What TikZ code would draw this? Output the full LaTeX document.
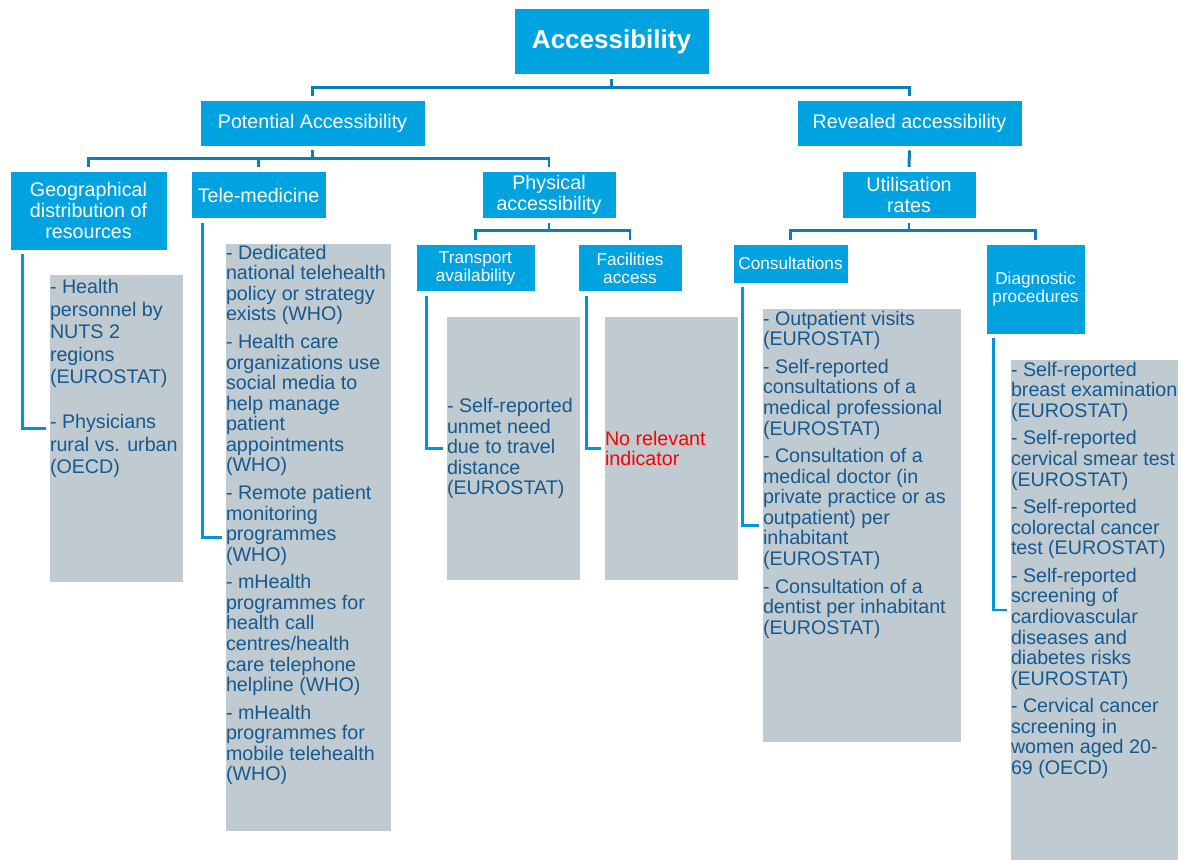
\documentclass[tikz,border=0pt]{standalone}
\usepackage{fontspec}
\setmainfont{Liberation Sans}

\definecolor{boxblue}{HTML}{00A3E0}
\definecolor{treeline}{HTML}{0B7EB6}
\definecolor{linkline}{HTML}{0096D6}
\definecolor{listgrey}{HTML}{BFCBD0}
\definecolor{indblue}{HTML}{17598F}
\definecolor{noind}{HTML}{FF0000}

\tikzset{
  hdr/.style={fill=boxblue, draw=white, line width=0.4pt, text=white, align=center,
    inner sep=0pt, font=\fontsize{11.2}{11.7}\selectfont},
  subhdr/.style={hdr, font=\fontsize{9.8}{10.2}\selectfont},
  listbox/.style={fill=listgrey, inner sep=0pt},
  listtext/.style={text=indblue, align=left, inner sep=0pt,
    font=\fontsize{11.2}{11.7}\selectfont},
  tree/.style={treeline, line width=1.7pt, shorten <=0.08cm, shorten >=0.08cm},
  link/.style={linkline, line width=1.7pt, shorten <=0.08cm, shorten >=0.08cm}
}

\begin{document}
\begin{tikzpicture}
    \useasboundingbox (0,0) rectangle (23.86,-17.2);
    % top level
    \node[hdr, minimum width=3.9cm, minimum height=1.33cm,
      font=\bfseries\fontsize{14.8}{16}\selectfont] (acc) at (12.23,-0.83) {Accessibility};
    \node[hdr, minimum width=4.5cm, minimum height=0.92cm] (pot) at (6.25,-2.46) {Potential Accessibility};
    \node[hdr, minimum width=4.5cm, minimum height=0.92cm] (rev) at (18.19,-2.46) {Revealed accessibility};
    % second level
    \node[hdr, minimum width=3.14cm, minimum height=1.58cm] (geo) at (1.77,-4.21) {Geographical\\distribution of\\resources};
    \node[hdr, minimum width=2.7cm, minimum height=0.95cm] (tele) at (5.17,-3.9) {Tele-medicine};
    \node[hdr, minimum width=2.68cm, minimum height=0.95cm] (phys) at (10.98,-3.9) {Physical\\accessibility};
    \node[hdr, minimum width=2.68cm, minimum height=0.95cm] (util) at (18.18,-3.9) {Utilisation\\rates};
    % third level
    \node[subhdr, minimum width=2.38cm, minimum height=0.95cm] (trans) at (9.51,-5.36) {Transport\\availability};
    \node[subhdr, minimum width=2.08cm, minimum height=0.95cm] (fac) at (12.6,-5.36) {Facilities\\access};
    \node[subhdr, minimum width=2.3cm, minimum height=0.78cm] (cons) at (15.81,-5.27) {Consultations};
    \node[subhdr, minimum width=1.98cm, minimum height=1.8cm] (diag) at (20.71,-5.78) {Diagnostic\\procedures};

    % indicator lists
    \node[listbox, minimum width=2.66cm, minimum height=6.14cm] (geol) at (2.33,-8.57) {};
    \node[listbox, minimum width=3.3cm, minimum height=11.74cm] (telel) at (6.17,-10.75) {};
    \node[listbox, minimum width=2.66cm, minimum height=5.26cm] (transl) at (10.27,-8.97) {};
    \node[listbox, minimum width=2.66cm, minimum height=5.26cm] (facl) at (13.43,-8.97) {};
    \node[listbox, minimum width=3.96cm, minimum height=8.66cm] (consl) at (17.24,-10.51) {};
    \node[listbox, minimum width=3.34cm, minimum height=10cm] (diagl) at (21.89,-12.2) {};

    \node[listtext, anchor=north west, font=\fontsize{11.2}{12.8}\selectfont] (geot)
      at ([yshift=-0.09cm]geol.north west)
      {- Health\\personnel by\\NUTS 2\\regions\\(EUROSTAT)\\[12.8pt]- Physicians\\rural vs. urban\\(OECD)};
    \node[listtext, anchor=north west] (telet) at ([yshift=-0.02cm]telel.north west)
      {- Dedicated\\national telehealth\\policy or strategy\\exists (WHO)\\[4pt]%
       - Health care\\organizations use\\social media to\\help manage\\patient\\appointments\\(WHO)\\[4pt]%
       - Remote patient\\monitoring\\programmes\\(WHO)\\[4pt]%
       - mHealth\\programmes for\\health call\\centres/health\\care telephone\\helpline (WHO)\\[4pt]%
       - mHealth\\programmes for\\mobile telehealth\\(WHO)};
    \node[listtext, anchor=west] (transt) at (transl.west)
      {- Self-reported\\unmet need\\due to travel\\distance\\(EUROSTAT)};
    \node[listtext, anchor=west, text=noind] (fact) at (facl.west) {No relevant\\indicator};
    \node[listtext, anchor=north west] (const) at ([yshift=-0.04cm]consl.north west)
      {- Outpatient visits\\(EUROSTAT)\\[4pt]%
       - Self-reported\\consultations of a\\medical professional\\(EUROSTAT)\\[4pt]%
       - Consultation of a\\medical doctor (in\\private practice or as\\outpatient) per\\inhabitant\\(EUROSTAT)\\[4pt]%
       - Consultation of a\\dentist per inhabitant\\(EUROSTAT)};
    \node[listtext, anchor=north west] (diagt) at ([yshift=-0.04cm]diagl.north west)
      {- Self-reported\\breast examination\\(EUROSTAT)\\[4pt]%
       - Self-reported\\cervical smear test\\(EUROSTAT)\\[4pt]%
       - Self-reported\\colorectal cancer\\test (EUROSTAT)\\[4pt]%
       - Self-reported\\screening of\\cardiovascular\\diseases and\\diabetes risks\\(EUROSTAT)\\[4pt]%
       - Cervical cancer\\screening in\\women aged 20-\\69 (OECD)};

    % tree connectors
    \draw[tree] (acc.south) -- ++(0,-0.254) -| (pot.north);
    \draw[tree] (acc.south) -- ++(0,-0.254) -| (rev.north);
    \foreach \c in {geo,tele,phys}
      \draw[tree] (pot.south) -- ++(0,-0.246) -| (\c.north);
    \draw[tree] (rev.south) -- (util.north);
    \foreach \c in {trans,fac}
      \draw[tree] (phys.south) -- ++(0,-0.226) -| (\c.north);
    \foreach \c in {cons,diag}
      \draw[tree] (util.south) -- ++(0,-0.226) -| (\c.north);

    % links to indicator lists
    \foreach \h/\l/\s in {geo/geol/0.26, tele/telel/0.24, trans/transl/0.22,
        fac/facl/0.18, cons/consl/0.2, diag/diagl/0.16}
      \draw[link] ([xshift=\s cm]\h.south west) |- (\l.west);
\end{tikzpicture}
\end{document}
